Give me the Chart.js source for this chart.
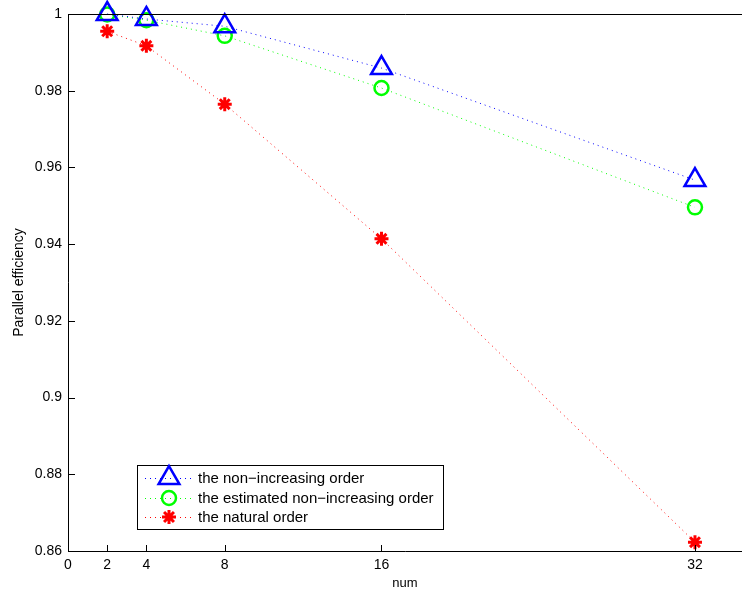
<!DOCTYPE html>
<html>
<head>
<meta charset="utf-8">
<script src="https://cdn.jsdelivr.net/npm/chart.js@4.4.1/dist/chart.umd.min.js"></script>
<style>
  html, body { margin: 0; padding: 0; background: #fff; overflow: hidden; }
  canvas { display: block; }
</style>
</head>
<body>
<canvas id="effChart" width="743" height="596"></canvas>
<script>
// ------------------ DATA -------------------//
const nums = [2, 4, 8, 16, 32];
const nonIncreasing = [1.0000, 0.9987, 0.9968, 0.9859, 0.9567];
const estimatedNonIncreasing = [0.9999, 0.9984, 0.9943, 0.9807, 0.9496];
const naturalOrder = [0.9955, 0.9917, 0.9765, 0.9414, 0.8623];
const xTicks = [0, 2, 4, 8, 16, 32];
const yTicks = [0.86, 0.88, 0.9, 0.92, 0.94, 0.96, 0.98, 1];
const seriesNames = ["the non\u2212increasing order", "the estimated non\u2212increasing order", "the natural order"];

const FONT = "'Liberation Sans', Arial, Helvetica, sans-serif";

function toPoints(vals) {
    return nums.map((n, i) => ({ x: n, y: vals[i] }));
}

function series(label, vals, color, style, radius, width) {
    return {
        label: label,
        data: toPoints(vals),
        showLine: true,
        borderColor: color,
        borderWidth: 1,
        borderDash: [1, 4],
        pointStyle: style,
        pointRadius: radius,
        pointHoverRadius: radius,
        pointBorderColor: color,
        pointBackgroundColor: 'rgba(0,0,0,0)',
        pointBorderWidth: width,
        clip: false
    };
}

const effData = {
    datasets: [
        series(seriesNames[0], nonIncreasing, '#0000ff', 'triangle', 12, 2.5),
        series(seriesNames[1], estimatedNonIncreasing, '#00ff00', 'circle', 7, 2.5),
        series(seriesNames[2], naturalOrder, '#ff0000', 'star', 7, 3)
    ]
};

// ------------------ MATLAB style box, inward ticks, legend -------------------//
function drawMarker(ctx, style, x, y, r) {
    ctx.beginPath();
    if (style === 'triangle') {
        for (let k = 0; k < 3; k++) {
            const a = k * 2 * Math.PI / 3;
            const px = x + Math.sin(a) * r, py = y - Math.cos(a) * r;
            if (k === 0) ctx.moveTo(px, py); else ctx.lineTo(px, py);
        }
        ctx.closePath();
    } else if (style === 'circle') {
        ctx.arc(x, y, r, 0, 2 * Math.PI);
    } else {
        for (let k = 0; k < 4; k++) {
            const a = k * Math.PI / 4;
            ctx.moveTo(x + Math.cos(a) * r, y + Math.sin(a) * r);
            ctx.lineTo(x - Math.cos(a) * r, y - Math.sin(a) * r);
        }
    }
    ctx.stroke();
}

const boxPlugin = {
    id: 'matlabBox',
    afterDatasetsDraw(chart) {
        const { ctx, chartArea: a, scales } = chart;
        ctx.save();
        ctx.strokeStyle = '#000';
        ctx.lineWidth = 1;
        ctx.setLineDash([]);
        ctx.beginPath();
        ctx.moveTo(a.left + 0.5, a.top + 0.5);
        ctx.lineTo(a.right, a.top + 0.5);
        ctx.moveTo(a.left + 0.5, a.top);
        ctx.lineTo(a.left + 0.5, a.bottom + 0.5);
        ctx.lineTo(a.right, a.bottom + 0.5);
        ctx.stroke();
        // inward ticks
        ctx.beginPath();
        xTicks.forEach(v => {
            const px = Math.round(scales.x.getPixelForValue(v)) + 0.5;
            ctx.moveTo(px, a.bottom);
            ctx.lineTo(px, a.bottom - 6);
        });
        yTicks.forEach(v => {
            const py = Math.round(scales.y.getPixelForValue(v)) + 0.5;
            ctx.moveTo(a.left, py);
            ctx.lineTo(a.left + 7, py);
        });
        ctx.stroke();

        // legend
        const lx = 137, ly = 465, lw = 306, lh = 64;
        ctx.fillStyle = '#fff';
        ctx.fillRect(lx, ly, lw, lh);
        ctx.strokeRect(lx + 0.5, ly + 0.5, lw, lh);
        const rows = [478, 498, 517];
        chart.data.datasets.forEach((ds, i) => {
            const y = rows[i];
            ctx.strokeStyle = ds.borderColor;
            ctx.lineWidth = 1;
            ctx.setLineDash([1, 4]);
            ctx.beginPath();
            ctx.moveTo(145, y + 0.5);
            ctx.lineTo(192, y + 0.5);
            ctx.stroke();
            ctx.setLineDash([]);
            ctx.lineWidth = ds.pointBorderWidth;
            drawMarker(ctx, ds.pointStyle, 169, y, ds.pointRadius);
            ctx.fillStyle = '#000';
            ctx.font = '15px ' + FONT;
            ctx.textBaseline = 'middle';
            ctx.textAlign = 'left';
            ctx.fillText(ds.label, 198, y + 1);
        });
        ctx.restore();
    }
};

const effOptions = {
    responsive: false,
    animation: false,
    devicePixelRatio: 1,
    layout: { autoPadding: false, padding: { top: 14, right: 1, left: 0, bottom: 0 } },
    plugins: {
        legend: { display: false },
        tooltip: { enabled: false }
    },
    scales: {
        x: {
            type: 'linear',
            min: 0,
            max: 34.4,
            afterBuildTicks: s => { s.ticks = xTicks.map(v => ({ value: v })); },
            afterFit: s => { s.height = 45; s.paddingLeft = 0; s.paddingRight = 0; },
            grid: { display: false },
            border: { display: false },
            ticks: { color: '#000', font: { family: FONT, size: 14 }, padding: -2, autoSkip: false, maxRotation: 0 },
            title: { display: true, text: 'num', color: '#000', font: { family: FONT, size: 13 }, padding: { top: 0, bottom: 5 } }
        },
        y: {
            min: 0.86,
            max: 1,
            afterBuildTicks: s => { s.ticks = yTicks.map(v => ({ value: v })); },
            afterFit: s => { s.width = 68; s.paddingTop = 0; s.paddingBottom = 0; },
            grid: { display: false },
            border: { display: false },
            ticks: { color: '#000', font: { family: FONT, size: 14 }, padding: -2, callback: v => String(+v.toFixed(2)) },
            title: { display: true, text: 'Parallel efficiency', color: '#000', font: { family: FONT, size: 14 }, padding: { top: 11, bottom: 0 } }
        }
    }
};

const effCanvas = document.getElementById('effChart');
let effChart = new Chart(effCanvas, {
    type: 'scatter',
    data: effData,
    options: effOptions,
    plugins: [boxPlugin]
});
</script>
</body>
</html>
